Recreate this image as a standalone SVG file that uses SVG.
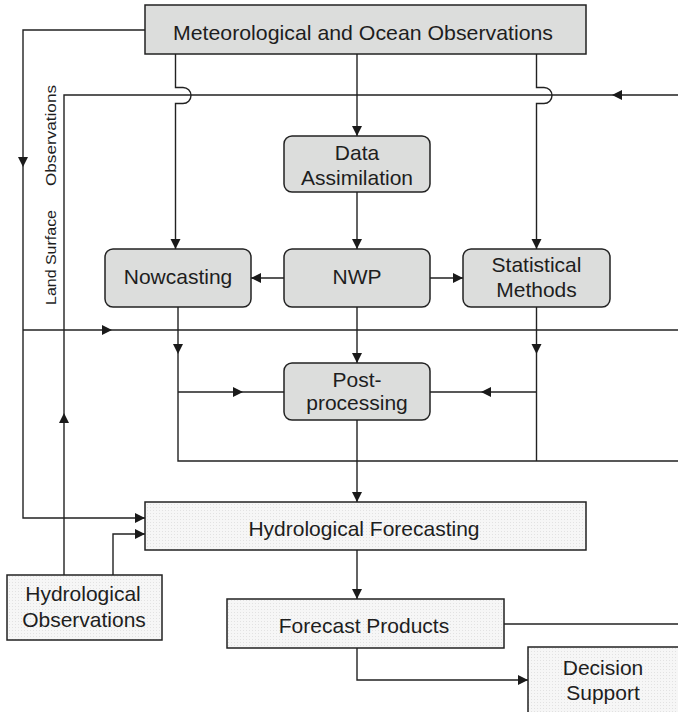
<svg xmlns="http://www.w3.org/2000/svg" xmlns:xlink="http://www.w3.org/1999/xlink" width="678" height="712" viewBox="0 0 678 712">
<style>
.ln{fill:none;stroke:#222;stroke-width:1.4}
.gb{fill:#dcdddc;stroke:#222;stroke-width:1.5}
.db{fill:url(#dots);stroke:#222;stroke-width:1.5}
.t{font-family:"Liberation Sans",Arial,Helvetica,sans-serif;font-size:21px;fill:#1e1e1e;text-anchor:middle}
.ls{font-family:"Liberation Sans",Arial,Helvetica,sans-serif;font-size:15px;fill:#1e1e1e}
.ah{fill:#1a1a1a}
</style>
<defs>
<pattern id="dots" width="3" height="3" patternUnits="userSpaceOnUse">
<rect width="3" height="3" fill="#f6f6f6"/>
<rect width="1" height="1" fill="#e2e2e2"/>
</pattern>
<path id="ah" d="M0,0 L-10,-5 L-10,5 z"/>
</defs>
<rect width="678" height="712" fill="#fff"/>
<g id="connectors">
<path class="ln" d="M145,30 H23 V518 H145"/>
<path class="ln" d="M175.5,54 V87.5 H183 A8,8 0 0 1 183,103.5 H175.5 V249"/>
<path class="ln" d="M357,54 V136"/>
<path class="ln" d="M536.5,54 V87.5 H544 A8,8 0 0 1 544,103.5 H536.5 V249"/>
<path class="ln" d="M64,575 V95 H678"/>
<path class="ln" d="M284,278 H251 M430,278 H463"/>
<path class="ln" d="M357,192 V249 M357,307 V363 M357,420 V502 M357,550 V599 M357,648 V680 H528"/>
<path class="ln" d="M23,330 H678"/>
<path class="ln" d="M178,307 V461 H678 M178,392 H284"/>
<path class="ln" d="M536.5,307 V461 M536.5,392 H430"/>
<path class="ln" d="M113,575 V534 H145"/>
<path class="ln" d="M504,624 H678"/>
<g class="ah">
<use xlink:href="#ah" transform="translate(23,167) rotate(90)"/>
<use xlink:href="#ah" transform="translate(175.5,249) rotate(90)"/>
<use xlink:href="#ah" transform="translate(357,136) rotate(90)"/>
<use xlink:href="#ah" transform="translate(536.5,249) rotate(90)"/>
<use xlink:href="#ah" transform="translate(612,95) rotate(180)"/>
<use xlink:href="#ah" transform="translate(251,278) rotate(180)"/>
<use xlink:href="#ah" transform="translate(463,278)"/>
<use xlink:href="#ah" transform="translate(357,249) rotate(90)"/>
<use xlink:href="#ah" transform="translate(112,330)"/>
<use xlink:href="#ah" transform="translate(178,354) rotate(90)"/>
<use xlink:href="#ah" transform="translate(536.5,354) rotate(90)"/>
<use xlink:href="#ah" transform="translate(357,363) rotate(90)"/>
<use xlink:href="#ah" transform="translate(243,392)"/>
<use xlink:href="#ah" transform="translate(481,392) rotate(180)"/>
<use xlink:href="#ah" transform="translate(64,413) rotate(-90)"/>
<use xlink:href="#ah" transform="translate(357,502) rotate(90)"/>
<use xlink:href="#ah" transform="translate(145,518)"/>
<use xlink:href="#ah" transform="translate(145,534)"/>
<use xlink:href="#ah" transform="translate(357,599) rotate(90)"/>
<use xlink:href="#ah" transform="translate(528,680)"/>
</g>
<text class="ls" transform="translate(56,305) rotate(-90)" textLength="95" lengthAdjust="spacingAndGlyphs">Land Surface</text>
<text class="ls" transform="translate(56,186) rotate(-90)" textLength="101" lengthAdjust="spacingAndGlyphs">Observations</text>
</g>
<g id="met-ocean-obs">
<rect class="gb" x="145" y="5" width="441" height="49"/>
<text class="t" x="363" y="39.5" textLength="380" lengthAdjust="spacingAndGlyphs">Meteorological and Ocean Observations</text>
</g>
<g id="data-assimilation">
<rect class="gb" x="284" y="136" width="146" height="56" rx="8"/>
<text class="t" x="357" y="160">Data</text>
<text class="t" x="357" y="185">Assimilation</text>
</g>
<g id="nowcasting">
<rect class="gb" x="105" y="249" width="146" height="58" rx="8"/>
<text class="t" x="178" y="284">Nowcasting</text>
</g>
<g id="nwp">
<rect class="gb" x="284" y="249" width="146" height="58" rx="8"/>
<text class="t" x="357" y="284">NWP</text>
</g>
<g id="statistical-methods">
<rect class="gb" x="463" y="249" width="147" height="58" rx="8"/>
<text class="t" x="536.5" y="271.5">Statistical</text>
<text class="t" x="536.5" y="296.5">Methods</text>
</g>
<g id="post-processing">
<rect class="gb" x="284" y="363" width="146" height="57" rx="8"/>
<text class="t" x="357" y="386.5">Post-</text>
<text class="t" x="357" y="410">processing</text>
</g>
<g id="hydrological-forecasting">
<rect class="db" x="145" y="502" width="441" height="48"/>
<text class="t" x="364" y="535.5">Hydrological Forecasting</text>
</g>
<g id="hydrological-observations">
<rect class="db" x="7" y="575" width="155" height="65"/>
<text class="t" x="83" y="601">Hydrological</text>
<text class="t" x="84" y="626.5">Observations</text>
</g>
<g id="forecast-products">
<rect class="db" x="227" y="599" width="277" height="49"/>
<text class="t" x="364" y="633">Forecast Products</text>
</g>
<g id="decision-support">
<rect class="db" x="528" y="647" width="170" height="80"/>
<text class="t" x="603" y="675">Decision</text>
<text class="t" x="603" y="700">Support</text>
</g>
</svg>
